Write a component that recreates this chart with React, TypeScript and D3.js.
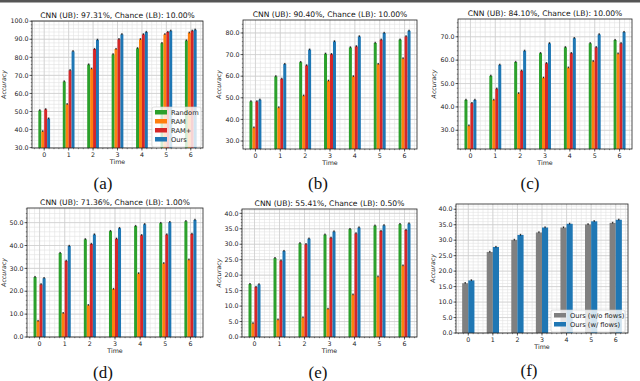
import React from 'react';
import * as d3 from 'd3';

const times = [0, 1, 2, 3, 4, 5, 6];
const methods = ['Random', 'RAM', 'RAM+', 'Ours'];
const methodColors = ['#2ca02c', '#ff7f0e', '#d62728', '#1f77b4'];

// panel (a)
const aRandom = [50.6, 66.6, 76.0, 81.6, 85.0, 87.8, 89.3];
const aRAM = [39.0, 54.0, 73.7, 84.6, 90.0, 92.7, 93.6];
const aRAMp = [51.2, 72.8, 84.6, 90.0, 92.7, 94.0, 94.7];
const aOurs = [46.1, 83.3, 89.7, 92.7, 94.0, 94.7, 95.3];
// panel (b)
const bRandom = [48.3, 59.9, 66.5, 70.4, 73.3, 75.4, 76.9];
const bRAM = [36.2, 45.5, 51.0, 57.9, 59.9, 65.6, 68.2];
const bRAMp = [48.3, 58.8, 65.0, 70.2, 73.8, 76.9, 78.4];
const bOurs = [49.1, 65.6, 72.3, 76.1, 78.4, 80.0, 81.0];
// panel (c)
const cRandom = [43.0, 53.3, 59.2, 63.0, 65.5, 67.2, 68.6];
const cRAM = [32.0, 43.0, 45.8, 52.5, 56.8, 59.5, 62.8];
const cRAMp = [41.6, 47.8, 55.5, 58.7, 63.0, 65.5, 67.2];
const cOurs = [43.0, 58.0, 64.0, 67.2, 69.4, 71.0, 72.0];
// panel (d)
const dRandom = [26.2, 36.7, 42.7, 46.3, 48.5, 49.8, 50.6];
const dRAM = [7.0, 10.4, 13.9, 21.0, 27.8, 32.2, 33.8];
const dRAMp = [23.0, 33.3, 40.7, 43.0, 44.5, 44.8, 45.1];
const dOurs = [25.7, 39.8, 44.8, 47.6, 49.3, 50.2, 51.2];
// panel (e)
const eRandom = [17.1, 25.5, 30.3, 33.1, 34.9, 36.0, 36.5];
const eRAM = [4.4, 5.6, 6.3, 9.1, 13.7, 19.5, 23.1];
const eRAMp = [16.2, 24.7, 30.0, 32.1, 33.5, 34.3, 34.6];
const eOurs = [17.0, 27.8, 31.8, 34.1, 35.4, 36.1, 36.7];
// panel (f)
const flowNames = ['Ours (w/o flows)', 'Ours (w/ flows)'];
const flowColors = ['#808080', '#1f77b4'];
const fNoFlow = [16.1, 26.2, 30.1, 32.5, 34.1, 35.1, 35.6];
const fFlow = [17.0, 27.8, 31.7, 34.1, 35.3, 36.1, 36.6];

const titles = [
  'CNN (UB): 97.31%, Chance (LB): 10.00%',
  'CNN (UB): 90.40%, Chance (LB): 10.00%',
  'CNN (UB): 84.10%, Chance (LB): 10.00%',
  'CNN (UB): 71.36%, Chance (LB): 1.00%',
  'CNN (UB): 55.41%, Chance (LB): 0.50%',
  '',
];
const subLabels = ['(a)', '(b)', '(c)', '(d)', '(e)', '(f)'];

const font = 'DejaVu Sans, sans-serif';
const tickFs = 6.3;

type PanelProps = {
  box: { l: number; r: number; t: number; b: number };
  domain: [number, number];
  step: number;
  series: number[][];
  colors: string[];
  names: string[];
  barW: number;
  title: string;
  ylabOff: number;
  legend?: { x: number; y: number; w: number };
};

function Panel({ box, domain, step, series, colors, names, barW, title, ylabOff, legend }: PanelProps) {
  const x = d3.scaleLinear().domain([-0.5, 6.5]).range([box.l, box.r]);
  const y = d3.scaleLinear().domain(domain).range([box.b, box.t]);
  const majors = d3.range(Math.ceil(domain[0] / step) * step, domain[1] + 0.001, step);
  const minorStep = step / 5;
  const minorsY = d3.range(Math.ceil(domain[0] / minorStep) * minorStep, domain[1], minorStep);
  const minorsX = d3.range(-0.4, 6.5, 0.2);
  const n = series.length;
  const unit = x(1) - x(0);
  const bw = barW * unit;
  const err = (0.3 * (domain[1] - domain[0])) / 60;
  return (
    <g>
      <rect x={box.l} y={box.t} width={box.r - box.l} height={box.b - box.t} fill="#fff" />
      {minorsY.map((v, i) => (
        <line key={'my' + i} x1={box.l} x2={box.r} y1={y(v)} y2={y(v)} stroke="#e2e2e2" strokeWidth={0.6} />
      ))}
      {minorsX.map((v, i) => (
        <line key={'mx' + i} x1={x(v)} x2={x(v)} y1={box.t} y2={box.b} stroke="#e2e2e2" strokeWidth={0.6} />
      ))}
      {majors.map((v, i) => (
        <line key={'gy' + i} x1={box.l} x2={box.r} y1={y(v)} y2={y(v)} stroke="#cccccc" strokeWidth={0.7} />
      ))}
      {times.map((t) => (
        <line key={'gx' + t} x1={x(t)} x2={x(t)} y1={box.t} y2={box.b} stroke="#cccccc" strokeWidth={0.7} />
      ))}
      {series.map((s, si) =>
        s.map((v, ti) => {
          const cx = x(times[ti]) + (si - (n - 1) / 2) * bw;
          return (
            <g key={si + '-' + ti}>
              <rect x={cx - bw / 2} y={y(v)} width={bw} height={box.b - y(v)} fill={colors[si]} />
              <line x1={cx} x2={cx} y1={y(v + err)} y2={y(v - err)} stroke="#000" strokeWidth={0.8} />
              <line x1={cx - 0.8} x2={cx + 0.8} y1={y(v + err)} y2={y(v + err)} stroke="#000" strokeWidth={0.6} />
            </g>
          );
        })
      )}
      <rect x={box.l} y={box.t} width={box.r - box.l} height={box.b - box.t} fill="none" stroke="#222" strokeWidth={0.8} />
      {minorsY.map((v, i) => (
        <line key={'mty' + i} x1={box.l - 1.2} x2={box.l} y1={y(v)} y2={y(v)} stroke="#222" strokeWidth={0.5} />
      ))}
      {minorsX.map((v, i) => (
        <line key={'mtx' + i} x1={x(v)} x2={x(v)} y1={box.b} y2={box.b + 1.2} stroke="#222" strokeWidth={0.5} />
      ))}
      {majors.map((v, i) => (
        <g key={'ty' + i}>
          <line x1={box.l - 2.5} x2={box.l} y1={y(v)} y2={y(v)} stroke="#222" strokeWidth={0.7} />
          <text x={box.l - 3.5} y={y(v)} dy="0.35em" textAnchor="end" fontSize={tickFs} fontFamily={font} fill="#222">
            {v.toFixed(1)}
          </text>
        </g>
      ))}
      {times.map((t) => (
        <g key={'tx' + t}>
          <line x1={x(t)} x2={x(t)} y1={box.b} y2={box.b + 2.5} stroke="#222" strokeWidth={0.7} />
          <text x={x(t)} y={box.b + 8.8} textAnchor="middle" fontSize={tickFs} fontFamily={font} fill="#222">
            {t}
          </text>
        </g>
      ))}
      <text x={(box.l + box.r) / 2} y={box.b + 15.8} textAnchor="middle" fontSize={tickFs} fontFamily={font} fill="#222">
        Time
      </text>
      <text
        transform={`translate(${box.l - ylabOff},${(box.t + box.b) / 2}) rotate(-90)`}
        textAnchor="middle"
        fontSize={tickFs}
        fontStyle="italic"
        fontFamily={font}
        fill="#222"
      >
        Accuracy
      </text>
      {title && (
        <text x={(box.l + box.r) / 2} y={box.t - 3.5} textAnchor="middle" fontSize={7.6} fontFamily={font} fill="#111">
          {title}
        </text>
      )}
      {legend && (
        <g>
          <rect x={legend.x} y={legend.y} width={legend.w} height={names.length * 9 + 4} rx={2} fill="#fff" fillOpacity={0.8} stroke="#ccc" strokeWidth={0.6} />
          {names.map((nm, i) => (
            <g key={nm}>
              <rect x={legend.x + 3} y={legend.y + 3 + i * 9} width={12} height={4.5} fill={colors[i]} />
              <text x={legend.x + 19} y={legend.y + 5.3 + i * 9} dy="0.35em" fontSize={tickFs + 0.4} fontFamily={font} fill="#222">
                {nm}
              </text>
            </g>
          ))}
        </g>
      )}
    </g>
  );
}

export default function App() {
  const panels: PanelProps[] = [
    { box: { l: 32, r: 203, t: 21, b: 148 }, domain: [29.8, 100.1], step: 10, series: [aRandom, aRAM, aRAMp, aOurs], colors: methodColors, names: methods, barW: 0.12, title: titles[0], ylabOff: 26, legend: { x: 152, y: 107, w: 49 } },
    { box: { l: 243, r: 417, t: 20, b: 149 }, domain: [26.3, 86], step: 10, series: [bRandom, bRAM, bRAMp, bOurs], colors: methodColors, names: methods, barW: 0.12, title: titles[1], ylabOff: 22 },
    { box: { l: 458, r: 632, t: 19, b: 149 }, domain: [22, 77.6], step: 10, series: [cRandom, cRAM, cRAMp, cOurs], colors: methodColors, names: methods, barW: 0.12, title: titles[2], ylabOff: 22 },
    { box: { l: 27, r: 203, t: 208, b: 337 }, domain: [0, 56.4], step: 10, series: [dRandom, dRAM, dRAMp, dOurs], colors: methodColors, names: methods, barW: 0.12, title: titles[3], ylabOff: 21 },
    { box: { l: 242, r: 417, t: 209, b: 337 }, domain: [0, 41.4], step: 5, series: [eRandom, eRAM, eRAMp, eOurs], colors: methodColors, names: methods, barW: 0.12, title: titles[4], ylabOff: 21 },
    { box: { l: 456, r: 628, t: 204, b: 333 }, domain: [0, 41.7], step: 5, series: [fNoFlow, fFlow], colors: flowColors, names: flowNames, barW: 0.25, title: titles[5], ylabOff: 21, legend: { x: 551, y: 310, w: 74 } },
  ];
  const labelPos = [
    [103, 189],
    [318, 189],
    [530, 189],
    [103, 378],
    [318, 378],
    [529, 376],
  ];
  return (
    <svg width={640} height={381} style={{ position: 'absolute', left: 0, top: 0, background: '#fff' }}>
      <rect x={0} y={0} width={640} height={381} fill="#fff" />
      <rect x={0} y={0} width={640} height={2.5} fill="#555" />
      {panels.map((p, i) => (
        <Panel key={i} {...p} />
      ))}
      {subLabels.map((s, i) => (
        <text key={s} x={labelPos[i][0]} y={labelPos[i][1]} textAnchor="middle" fontSize={17} fontFamily="Liberation Serif, serif" fill="#111">
          {s}
        </text>
      ))}
    </svg>
  );
}
